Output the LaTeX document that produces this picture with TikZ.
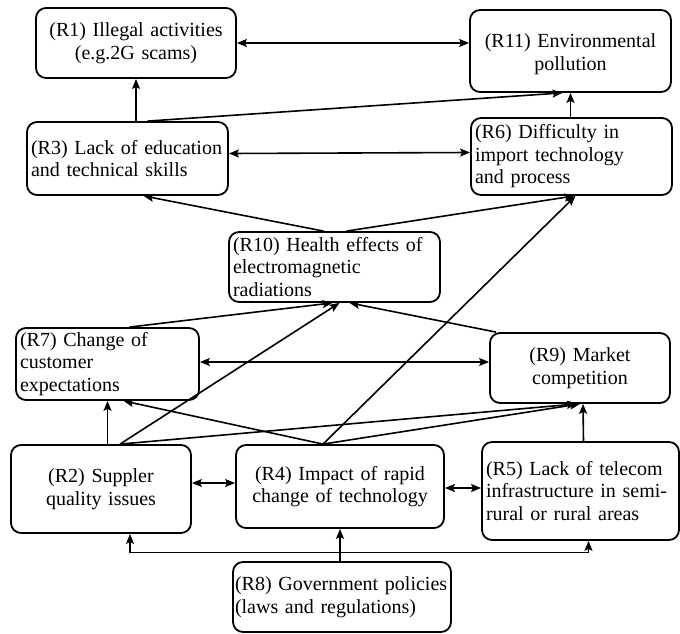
\documentclass[tikz,border=0pt]{standalone}
\usepackage{fontspec}
\setmainfont{Liberation Serif}
\usetikzlibrary{arrows.meta}
\tikzset{
  rbox/.style={draw, rounded corners=10pt, line width=1.8pt, inner xsep=4pt, inner ysep=2pt,
    font=\fontsize{20}{22.5}\selectfont},
  link/.style={->, line width=1.6pt},
}

\begin{document}
\begin{tikzpicture}[x=1pt,y=-1pt,>={Stealth[length=10pt,width=8pt,inset=2pt]}]
  \useasboundingbox (0,0) rectangle (680,634);
  % factors
  \node[rbox, text width=192pt, minimum height=70pt, align=center] (r1) at (136,43) {(R1) Illegal activities\\(e.g.2G scams)};
  \node[rbox, text width=193pt, minimum height=82pt, align=center, text depth=20pt] (r11) at (570.5,51) {(R11) Environmental\\pollution};
  \node[rbox, text width=193pt, minimum height=73pt, align=left] (r3) at (127.5,158.5) {(R3) Lack of education\\and technical skills};
  \node[rbox, text width=193pt, minimum height=77pt, align=left] (r6) at (571.5,156.5) {(R6) Difficulty in\\import technology\\and process};
  \node[rbox, text width=203pt, minimum height=70pt, align=left] (r10) at (334.5,267) {(R10) Health effects of\\electromagnetic\\radiations};
  \node[rbox, text width=175pt, minimum height=72pt, align=left] (r7) at (107.5,364) {(R7) Change of\\customer\\expectations};
  \node[rbox, text width=172pt, minimum height=70pt, align=center] (r9) at (580,368) {(R9) Market\\competition};
  \node[rbox, text width=172pt, minimum height=88pt, align=center] (r2) at (101,489) {(R2) Suppler\\quality issues};
  \node[rbox, text width=200pt, minimum height=83pt, align=center] (r4) at (340,486.5) {(R4) Impact of rapid\\change of technology};
  \node[rbox, text width=189pt, minimum height=98pt, align=left] (r5) at (580.5,491) {(R5) Lack of telecom\\infrastructure in semi-\\rural or rural areas};
  \node[rbox, text width=214pt, inner xsep=2pt, minimum height=70pt, align=left] (r8) at (342,597) {(R8) Government policies\\(laws and regulations)};

  % top part
  \draw[link,<->] (r1.east) -- (r1.east -| r11.west);
  \draw[link] (r3.north -| r1.south) -- (r1.south);
  \draw[link] ([xshift=20pt]r3.north) -- ([xshift=-8pt]r11.south);
  \draw[link] (r6.north -| r11.south) -- (r11.south);
  \draw[link,<->] ([yshift=5pt]r3.east) -- ([yshift=4pt]r6.west);
  \draw[link] ([xshift=-11pt]r10.north) -- ([xshift=16pt]r3.south);
  \draw[link] ([xshift=12pt]r10.north) -- ([xshift=3pt]r6.south);
  % middle part
  \draw[link] ([xshift=22pt]r7.north) -- ([xshift=-2pt]r10.south);
  \draw[link] ([xshift=19pt]r2.north) -- ([xshift=5pt]r10.south);
  \draw[link] ([xshift=-84pt]r9.north) -- ([xshift=15pt]r10.south);
  \draw[link,<->] ([yshift=2pt]r7.east) -- ([yshift=6pt]r9.west);
  % bottom part
  \draw[link] ([xshift=-17pt]r4.north) -- ([xshift=4pt]r6.south);
  \draw[link] (r2.north -| r7.south) -- (r7.south);
  \draw[link] ([xshift=-17pt]r4.north) -- ([xshift=16pt]r7.south);
  \draw[link] ([xshift=19pt]r2.north) -- ([xshift=-3pt]r9.south);
  \draw[link] ([xshift=-17pt]r4.north) -- ([xshift=0pt]r9.south);
  \draw[link] ([xshift=3pt]r5.north) -- ([xshift=3pt]r9.south);
  \draw[link,<->] ([yshift=6pt]r2.east) -- ([yshift=3.5pt]r4.west);
  \draw[link,<->,line width=2.4pt] ([yshift=-1.5pt]r4.east) -- ([yshift=3pt]r5.west);
  % government policies
  \coordinate (bus) at ([yshift=9pt]r8.north);
  \draw[link] (r8.north -| r4.south) -- (r4.south);
  \draw[link,line width=1.1pt] (bus) -| ([xshift=29pt]r2.south);
  \draw[link,line width=1.1pt] (bus) -| ([xshift=8pt]r5.south);
\end{tikzpicture}
\end{document}
